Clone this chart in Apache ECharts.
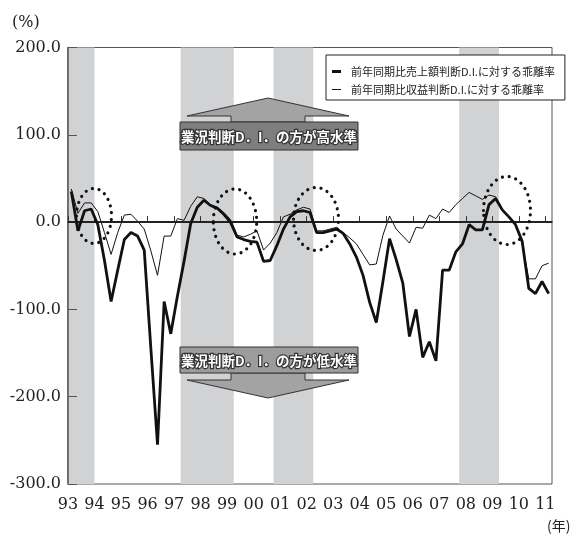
<!DOCTYPE html>
<html><head><meta charset="utf-8">
<script src="https://cdn.jsdelivr.net/npm/echarts@6/dist/echarts.min.js"></script>
<style>html,body{margin:0;padding:0;background:#fff}#c{width:585px;height:538px}</style>
</head><body><div id="c"></div>
<script>
// ---- data (quarterly, from 1993 Q1) ----
const startYear = 1993;
const yearLabels = ['93','94','95','96','97','98','99','00','01','02','03','04','05','06','07','08','09','10','11'];
const seriesNames = ['前年同期比売上額判断D.I.に対する乖離率','前年同期比収益判断D.I.に対する乖離率'];
const sales = [35,-10,13,15,-3,-44,-91,-55,-20,-12,-16,-32,-145,-255,-91,-128,-85,-45,-2,17,25,19,16,9,
  0,-17,-20,-22,-23,-45,-44,-27,-8,6,12,13,11,-12,-12,-10,-8,-13,-25,-40,-61,-92,-115,-68,-19,-43,-70,
  -131,-100,-155,-137,-159,-55,-55,-34,-25,-3,-9,-9,20,27,14,6,-3,-22,-76,-82,-68,-82];
const profit = [38,10,22,22,12,-12,-37,-12,8,9,1,-8,-33,-61,-16,-16,4,2,18,29,27,20,17,11,
  3,-15,-17,-14,-10,-32,-24,-12,6,9,14,17,15,-10,-10,-8,-6,-12,-18,-25,-37,-49,-48,-15,7,-8,-16,
  -24,-6,-7,8,4,15,11,20,27,34,30,26,31,29,15,5,-3,-25,-65,-65,-50,-47];
const recessions = [[1993, 1994], [1997.25, 1999.25], [2000.75, 2002.25], [2007.75, 2009.25]];
const yTicks = [-300, -200, -100, 0, 100, 200];

const toPts = arr => arr.map((v, i) => [startYear + (i + 0.5) / 4, v]);
const xMax = startYear + sales.length / 4;

const chart = echarts.init(document.getElementById('c'), null, {renderer: 'canvas'});
const jp = '"Noto Sans CJK JP", sans-serif';
const serif = 'DejaVu Serif';

function dotted(cx, cy, rx, ry) {
  return {type: 'ellipse', shape: {cx, cy, rx, ry}, z: 50, silent: true,
    style: {fill: null, stroke: '#111', lineWidth: 3.2, lineDash: [0.01, 6.8], lineCap: 'round'}};
}
function arrowUp() {
  return [
    {type: 'polygon', z: 40, shape: {points: [[187,116],[268,98],[349,116],[305,116],[305,122],[231,122],[231,116]]},
      style: {fill: '#a3a3a3', stroke: '#333', lineWidth: 1}},
    {type: 'rect', z: 41, shape: {x: 180, y: 122, width: 178, height: 28},
      style: {fill: '#7e7e7e', stroke: '#333', lineWidth: 1}},
    {type: 'text', z: 42, style: {x: 269, y: 136.5, text: '業況判断D．I．の方が高水準', align: 'center', verticalAlign: 'middle',
      font: 'bold 13.5px ' + jp, fill: '#fff', stroke: '#333', lineWidth: 2.4}}
  ];
}
function arrowDown() {
  return [
    {type: 'polygon', z: 40, shape: {points: [[187,380],[268,398],[349,380],[305,380],[305,373],[231,373],[231,380]]},
      style: {fill: '#a3a3a3', stroke: '#333', lineWidth: 1}},
    {type: 'rect', z: 41, shape: {x: 180, y: 347, width: 178, height: 26},
      style: {fill: '#9c9c9c', stroke: '#333', lineWidth: 1}},
    {type: 'text', z: 42, style: {x: 269, y: 360.5, text: '業況判断D．I．の方が低水準', align: 'center', verticalAlign: 'middle',
      font: 'bold 13.5px ' + jp, fill: '#fff', stroke: '#333', lineWidth: 2.4}}
  ];
}

chart.setOption({
  animation: false,
  backgroundColor: '#fff',
  grid: {left: 68, right: 33, top: 47.5, bottom: 54, show: true, borderColor: '#555', borderWidth: 1, backgroundColor: 'transparent'},
  legend: {
    orient: 'vertical', left: 326, top: 55, z: 60,
    padding: [11, 10, 5, 6], itemGap: 7, itemWidth: 9, itemHeight: 14,
    backgroundColor: '#fff', borderColor: '#222', borderWidth: 1,
    textStyle: {fontFamily: jp, fontSize: 11, color: '#222', padding: [0, 0, 0, 5]},
    data: [
      {name: seriesNames[0], icon: 'path://M0,0h9v3h-9z', itemStyle: {color: '#111'}},
      {name: seriesNames[1], icon: 'path://M0,0h9v1h-9z', itemStyle: {color: '#111'}}
    ]
  },
  xAxis: {
    type: 'value', min: startYear, max: xMax, interval: 1, z: 3,
    axisLine: {show: true, lineStyle: {color: '#333', width: 1.5}},
    axisTick: {show: true, inside: true, length: 6, lineStyle: {color: '#333'}},
    splitLine: {show: false},
    axisLabel: {
      margin: 13, fontFamily: serif, fontSize: 16, color: '#222', showMaxLabel: false,
      formatter: v => { const k = Math.round(v - startYear); return Math.abs(v - startYear - k) < 1e-6 ? (yearLabels[k] || '') : ''; }
    }
  },
  yAxis: {
    type: 'value', min: yTicks[0], max: yTicks[yTicks.length - 1], interval: 100, z: 3,
    axisLine: {show: true, lineStyle: {color: '#555', width: 1.5}},
    axisTick: {show: true, inside: true, length: 9, lineStyle: {color: '#555'}},
    splitLine: {show: false},
    axisLabel: {margin: 7, fontFamily: serif, fontSize: 16, color: '#222', formatter: v => v.toFixed(1)}
  },
  graphic: [
    {type: 'text', left: 12, top: 15, style: {text: '(%)', font: '16px ' + serif, fill: '#222'}},
    {type: 'text', left: 547, top: 519, style: {text: '(年)', font: '14px ' + jp, fill: '#222'}},
    dotted(94, 216, 17.5, 27.5),
    dotted(235, 221.5, 21.7, 32.5),
    dotted(316, 219, 22.5, 31.5),
    dotted(507, 210.5, 23.5, 34),
    ...arrowUp(), ...arrowDown()
  ],
  series: [
    {
      name: '_bands', type: 'line', data: [], z: 1, silent: true,
      markArea: {silent: true, itemStyle: {color: '#d1d2d4'},
        data: recessions.map(r => [{xAxis: r[0]}, {xAxis: r[1]}])},
      markLine: {silent: true, symbol: 'none', label: {show: false},
        lineStyle: {color: '#222', width: 2, type: 'solid'}, data: [{yAxis: 0}]}
    },
    {
      name: seriesNames[0], type: 'line', data: toPts(sales), symbol: 'none', z: 5,
      lineStyle: {color: '#111', width: 2.8}, itemStyle: {color: '#111'}
    },
    {
      name: seriesNames[1], type: 'line', data: toPts(profit), symbol: 'none', z: 4,
      lineStyle: {color: '#111', width: 1}, itemStyle: {color: '#111'}
    }
  ]
});
</script></body></html>
